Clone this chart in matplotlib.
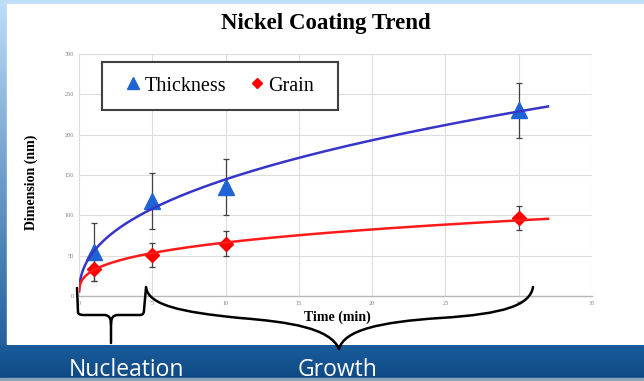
import numpy as np
import matplotlib
matplotlib.use("Agg")
import matplotlib.pyplot as plt
from matplotlib.path import Path
from matplotlib.patches import PathPatch, Rectangle

time_min = [1, 5, 10, 30]
thickness = [54, 118, 135, 230]
thickness_err = [36, 35, 35, 34]
grain = [33, 51, 65, 97]
grain_err = [15, 15, 15, 15]

x_ticks = [0, 5, 10, 15, 20, 25, 30, 35]
y_ticks = [0, 50, 100, 150, 200, 250, 300]

W, H = 644, 381
fig = plt.figure(figsize=(W / 100, H / 100), dpi=100)

# slide background, in pixel coordinates
bg = fig.add_axes([0, 0, 1, 1], zorder=0)
bg.axis("off")
grad = np.linspace(0, 1, 256)[:, None]
c_top = np.array([0.74, 0.87, 0.98])
c_bot = np.array([0.08, 0.33, 0.58])
img = c_top[None, None, :] * (1 - grad[..., None]) + c_bot[None, None, :] * grad[..., None]
bg.imshow(img, extent=[0, 8, 378, 0], aspect="auto", zorder=0)
bg.add_patch(Rectangle((0, 0), W, 4, color="#bcdef9", zorder=1))
bg.add_patch(Rectangle((7, 4), W - 7, 341, color="white", zorder=2))
bar = np.linspace(0, 1, 64)[:, None]
b1 = np.array([0.10, 0.36, 0.61])
b2 = np.array([0.06, 0.29, 0.52])
bimg = b1[None, None, :] * (1 - bar[..., None]) + b2[None, None, :] * bar[..., None]
bg.imshow(bimg, extent=[0, W, 378, 345], aspect="auto", zorder=3)
bg.add_patch(Rectangle((0, 378), W, 3, color="#8aa3ba", zorder=4))
bg.set_xlim(0, W)
bg.set_ylim(H, 0)

# chart
ax = fig.add_axes([79 / W, 1 - 296 / H, (592 - 79) / W, (296 - 54) / H], zorder=2)
ax.set_facecolor("none")
serif = "Liberation Serif"

ax.errorbar(time_min, thickness, yerr=thickness_err, fmt="none", ecolor="#404040",
            elinewidth=0.9, capsize=2, capthick=0.9, zorder=3)
ax.errorbar(time_min, grain, yerr=grain_err, fmt="none", ecolor="#404040",
            elinewidth=0.9, capsize=2, capthick=0.9, zorder=3)
ax.plot(time_min, thickness, linestyle="none", marker="^", markersize=11,
        color="#1f63d4", label="Thickness", zorder=4)
ax.plot(time_min, grain, linestyle="none", marker="D", markersize=7,
        color="#ff0000", label="Grain", zorder=4)

# power trendlines (fit in log space, like a spreadsheet trendline)
tt = np.geomspace(0.005, 32, 300)
for vals, col in [(thickness, "#3535c8"), (grain, "#ff1a1a")]:
    b, lna = np.polyfit(np.log(time_min), np.log(vals), 1)
    ax.plot(tt, np.exp(lna) * tt ** b, color=col, linewidth=1.8, zorder=5)

ax.set_xlim(0, 35)
ax.set_ylim(0, 300)
ax.set_xticks(x_ticks)
ax.set_yticks(y_ticks)
ax.grid(True, color="#dcdcdc", linewidth=0.8)
ax.set_axisbelow(True)
for s in ["top", "right"]:
    ax.spines[s].set_visible(False)
ax.spines["left"].set_color("#dcdcdc")
ax.spines["bottom"].set_color("#b8b8b8")
ax.spines["bottom"].set_linewidth(1.0)
ax.tick_params(length=0, labelsize=4.5, labelcolor="#808080", pad=3.5)
for lab in ax.get_xticklabels() + ax.get_yticklabels():
    lab.set_fontfamily(serif)

ax.set_xlabel("Time (min)", fontfamily=serif, fontweight="bold", fontsize=10, va="center")
ax.set_ylabel("Dimension (nm)", fontfamily=serif, fontweight="bold", fontsize=10, va="center")
ax.xaxis.set_label_coords(0.503, -0.088)
ax.yaxis.set_label_coords(-0.093, 0.47)

# legend with a frame drawn to the reference box size
leg = fig.legend(loc="center", bbox_to_anchor=(220 / W, 1 - 86 / H), ncol=2,
                 frameon=False, prop={"family": serif, "size": 14.5}, markerscale=0.75,
                 handlelength=0.7, handletextpad=0.2, columnspacing=1.2, borderpad=0)
fig.add_artist(Rectangle((102 / W, 1 - 110 / H), 236 / W, 48 / H, transform=fig.transFigure,
                         facecolor="white", edgecolor="#404040", linewidth=1.5, zorder=5))
leg.set_zorder(6)

fig.text(326 / W, 1 - 24 / H, "Nickel Coating Trend", ha="center", va="center",
         fontfamily=serif, fontweight="bold", fontsize=16.5)

# overlay: braces and bar labels
ov = fig.add_axes([0, 0, 1, 1], zorder=10)
ov.set_xlim(0, W)
ov.set_ylim(H, 0)
ov.axis("off")

M, L, C = Path.MOVETO, Path.LINETO, Path.CURVE4
small = [
    ((77, 288), M), ((78, 312), L), ((78, 314), C), ((80, 315), C), ((84, 315), C),
    ((104, 315), L), ((109, 315), C), ((111, 318), C), ((111, 324), C),
    ((111, 343), L),
    ((111, 324), M), ((111, 318), C), ((113, 315), C), ((118, 315), C),
    ((140, 315), L), ((143, 315), C), ((144, 313), C), ((144, 310), C),
    ((146, 288), L),
]
big = [
    ((146, 287), M), ((148, 305), C), ((180, 312), C), ((240, 318), C),
    ((290, 322), C), ((330, 328), C), ((339, 349), C),
    ((344, 330), C), ((380, 322), C), ((440, 318), C),
    ((505, 314), C), ((530, 305), C), ((533, 287), C),
]
for pts in (small, big):
    verts, codes = zip(*pts)
    ov.add_patch(PathPatch(Path(verts, codes), facecolor="none", edgecolor="black",
                           linewidth=1.8, capstyle="round", joinstyle="round"))

ov.text(69, 376, "Nucleation", color="white", fontfamily="Open Sans", fontsize=16.5,
        va="baseline", ha="left")
ov.text(298, 376, "Growth", color="white", fontfamily="Open Sans", fontsize=16.5,
        va="baseline", ha="left")

fig.savefig("out.png", dpi=100)
